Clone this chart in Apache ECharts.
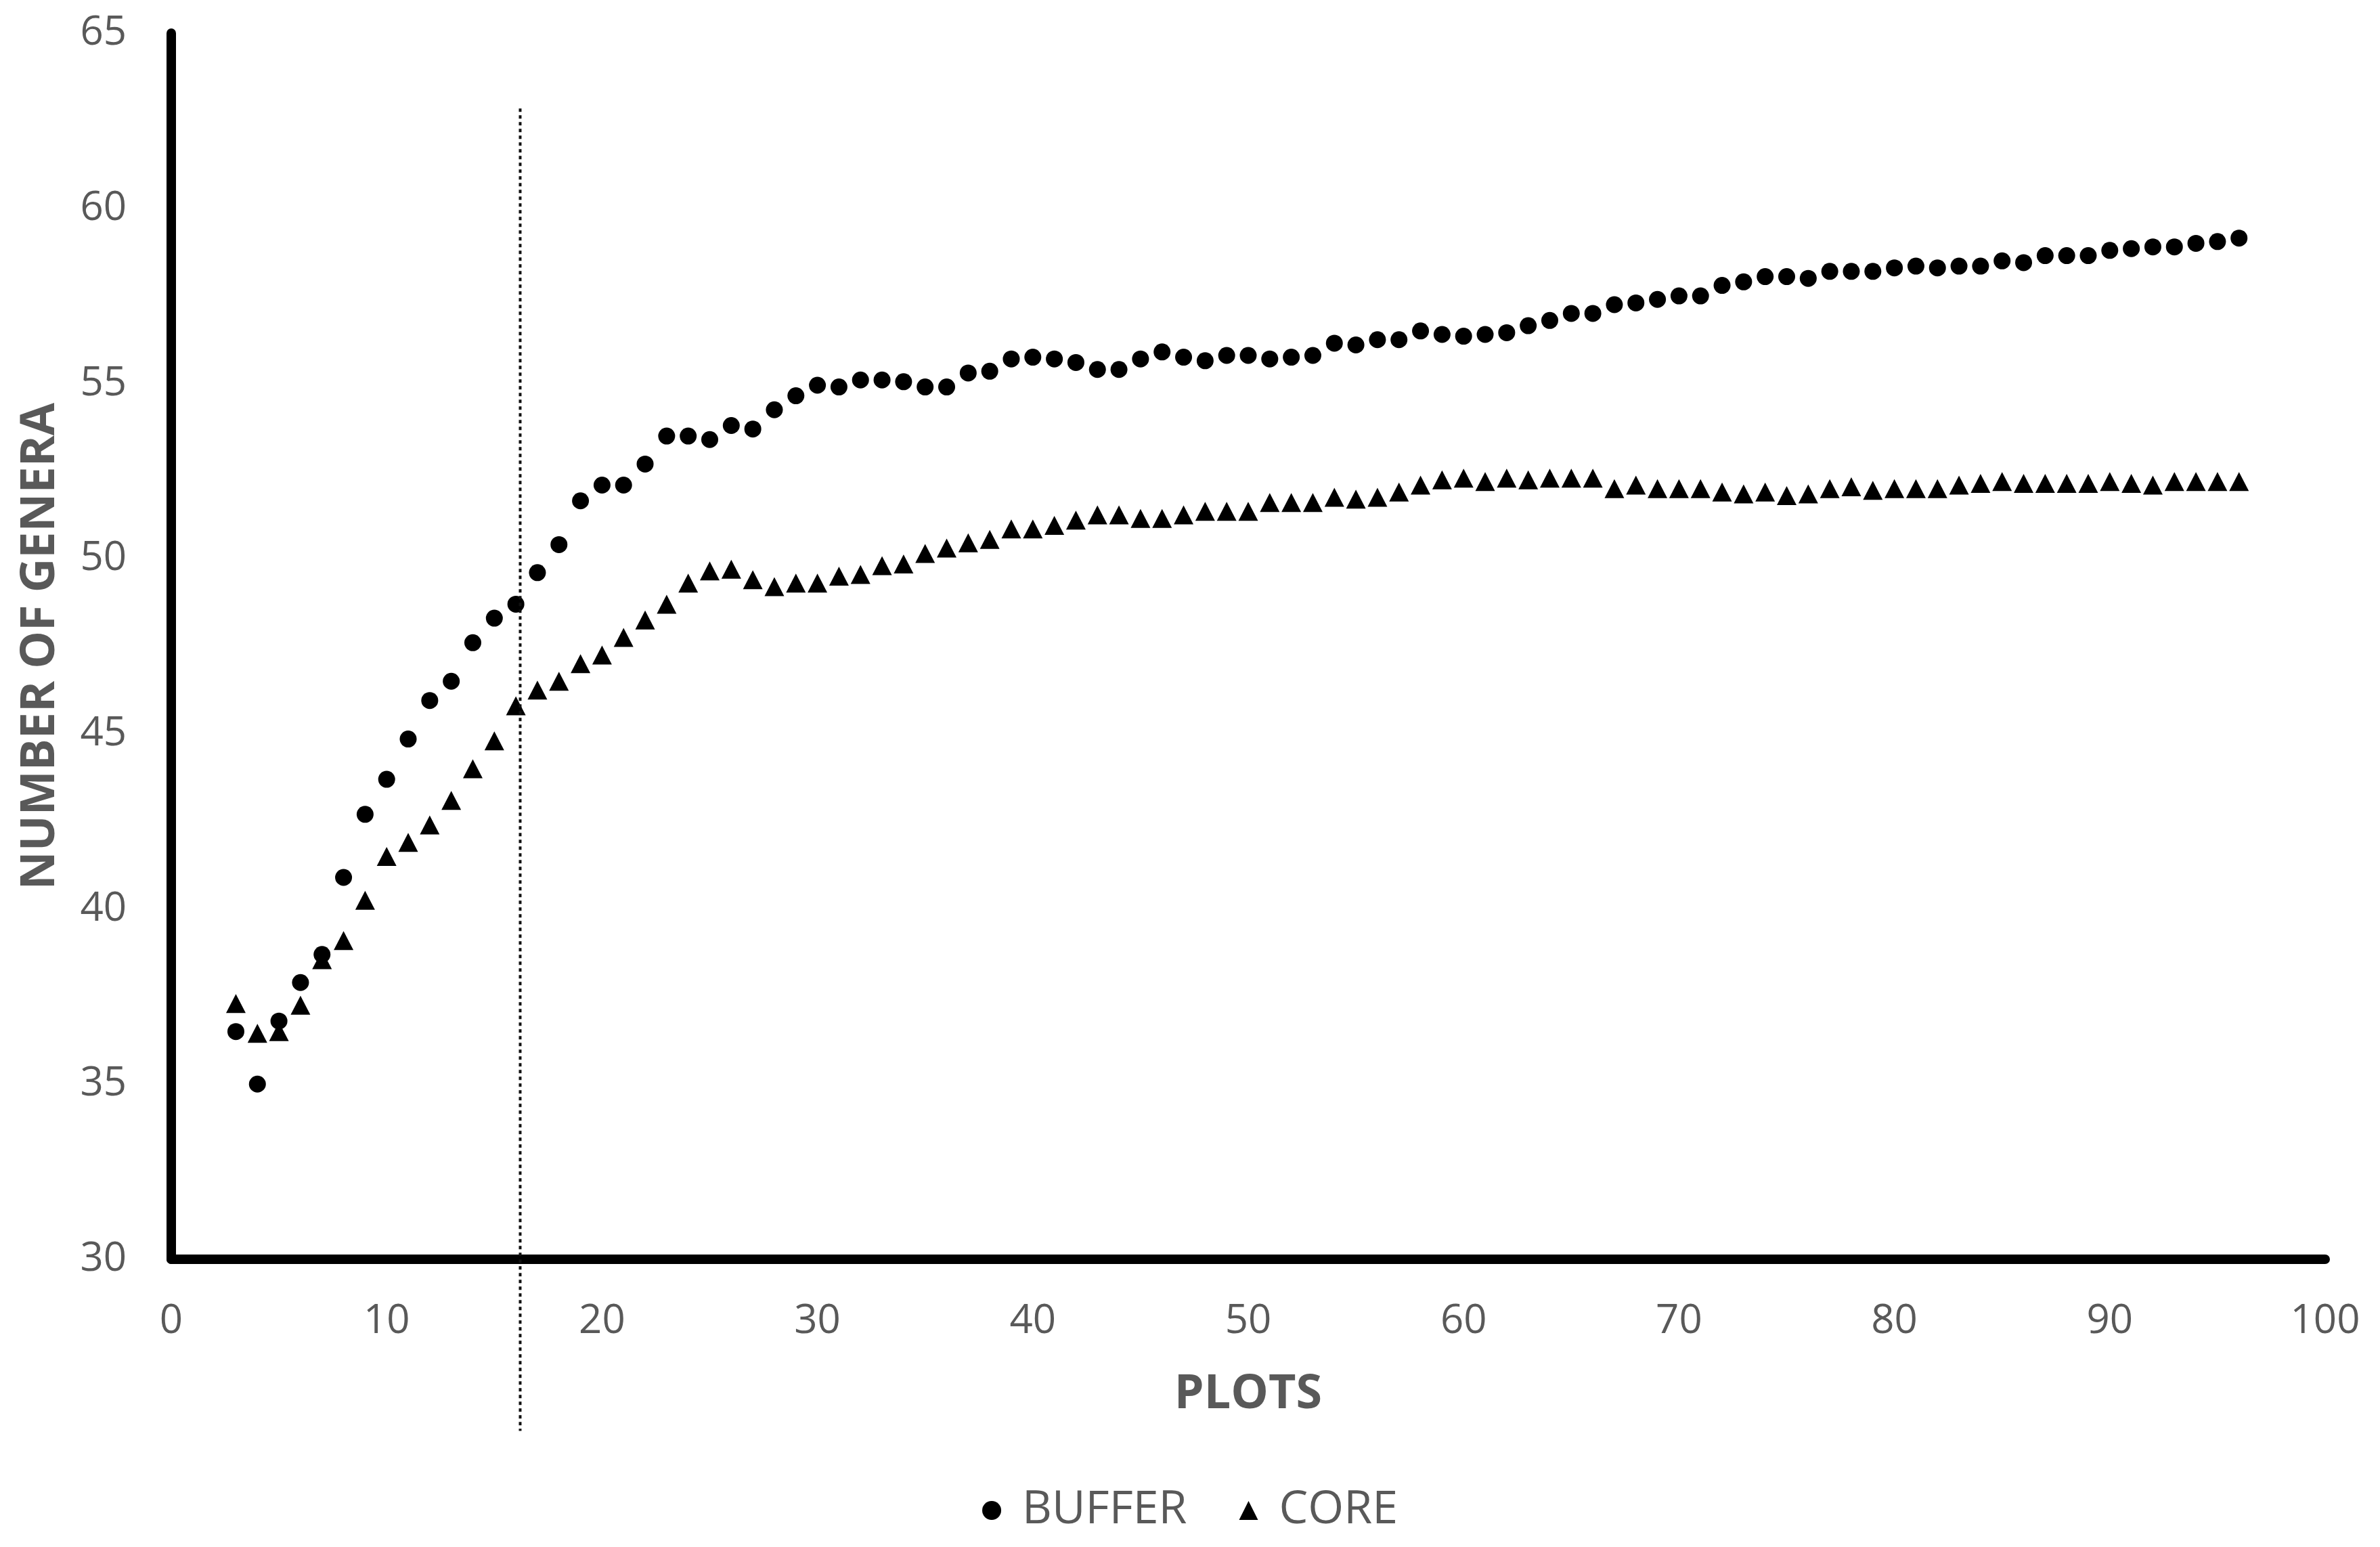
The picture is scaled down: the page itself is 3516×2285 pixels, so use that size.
<!DOCTYPE html>
<html>
<head>
<meta charset="utf-8">
<title>Number of genera by plots</title>
<script src="https://cdn.jsdelivr.net/npm/echarts@6/dist/echarts.min.js"></script>
<style>
html,body{margin:0;padding:0;background:#fff}
#chart{width:3516px;height:2285px}
</style>
</head>
<body>
<div id="chart"></div>
<script>
// plots sampled (x) and number of genera for each zone
var plots = [3,4,5,6,7,8,9,10,11,12,13,14,15,16,17,18,19,20,21,22,23,24,25,26,27,28,29,30,
  31,32,33,34,35,36,37,38,39,40,41,42,43,44,45,46,47,48,49,50,51,52,53,54,55,56,57,58,59,60,
  61,62,63,64,65,66,67,68,69,70,71,72,73,74,75,76,77,78,79,80,81,82,83,84,85,86,87,88,89,90,
  91,92,93,94,95,96];
var buffer = [36.5,35.0,36.8,37.9,38.7,40.9,42.7,43.7,44.85,45.95,46.5,47.6,48.3,48.7,49.6,50.4,51.65,52.1,52.1,52.7,
  53.5,53.5,53.4,53.8,53.7,54.25,54.65,54.95,54.9,55.1,55.1,55.05,54.9,54.9,55.3,55.35,55.7,55.75,55.7,55.6,
  55.4,55.4,55.7,55.9,55.75,55.65,55.8,55.8,55.7,55.75,55.8,56.15,56.1,56.25,56.25,56.5,56.4,56.35,56.4,56.45,
  56.65,56.8,57.0,57.0,57.25,57.3,57.4,57.5,57.5,57.8,57.9,58.05,58.05,58.0,58.2,58.2,58.2,58.3,58.35,58.3,
  58.35,58.35,58.5,58.45,58.65,58.65,58.65,58.8,58.85,58.9,58.9,59.0,59.05,59.15];
var core = [37.3,36.45,36.5,37.25,38.55,39.1,40.25,41.5,41.9,42.4,43.1,44.0,44.8,45.8,46.25,46.5,47.0,47.25,47.75,48.25,
  48.7,49.3,49.65,49.7,49.4,49.2,49.3,49.3,49.5,49.55,49.8,49.85,50.15,50.3,50.45,50.55,50.85,50.85,50.95,51.1,
  51.25,51.25,51.15,51.15,51.25,51.35,51.35,51.35,51.6,51.6,51.6,51.75,51.7,51.75,51.9,52.1,52.25,52.3,52.2,52.3,
  52.25,52.3,52.3,52.3,52.0,52.1,52.0,52.0,52.0,51.9,51.85,51.9,51.8,51.85,52.0,52.05,51.95,52.0,52.0,52.0,
  52.1,52.15,52.2,52.15,52.15,52.15,52.15,52.2,52.15,52.1,52.2,52.2,52.2,52.2];
var seriesNames = ['BUFFER', 'CORE'];
var cutoffPlot = 16.2;      // dotted reference line
var cutoffTop = 62.85;
var cutoffBottom = 25.1;

var grey = '#595959';
var font = "'Open Sans', 'Noto Sans', sans-serif";

function pairs(ys) {
    return plots.map(function (x, i) { return [x, ys[i]]; });
}

var myChart = echarts.init(document.getElementById('chart'));
var option = {
    backgroundColor: '#fff',
    animation: false,
    textStyle: { fontFamily: font },
    grid: {
        left: 253,
        right: 81,
        top: 49,
        bottom: 425,
        containLabel: false
    },
    legend: {
        left: 'center',
        top: 2192,
        itemWidth: 28,
        itemHeight: 28,
        itemGap: 77,
        formatter: function (name) { return '{t|' + name + '}'; },
        itemStyle: { opacity: 1 },
        textStyle: {
            color: grey,
            fontSize: 68,
            fontFamily: font,
            rich: { t: { color: grey, fontSize: 68, fontFamily: font, padding: [0, 0, 0, 26] } }
        },
        data: [
            { name: seriesNames[0], icon: 'circle' },
            { name: seriesNames[1], icon: 'triangle' }
        ]
    },
    xAxis: {
        type: 'value',
        min: 0,
        max: 100,
        interval: 10,
        name: 'PLOTS',
        nameLocation: 'middle',
        nameGap: 165,
        nameTextStyle: { color: grey, fontSize: 70, fontWeight: 'bold', fontFamily: font },
        axisLine: { show: true, onZero: false, lineStyle: { color: '#000', width: 14 } },
        axisTick: { show: false },
        splitLine: { show: false },
        axisLabel: { color: grey, fontSize: 60, margin: 62, fontFamily: font }
    },
    yAxis: {
        type: 'value',
        min: 30,
        max: 65,
        interval: 5,
        name: 'NUMBER OF GENERA',
        nameLocation: 'middle',
        nameGap: 158,
        nameRotate: 90,
        nameTextStyle: { color: grey, fontSize: 70, fontWeight: 'bold', fontFamily: font },
        axisLine: { show: true, onZero: false, lineStyle: { color: '#000', width: 14 } },
        axisTick: { show: false },
        splitLine: { show: false },
        axisLabel: { color: grey, fontSize: 60, margin: 66, fontFamily: font }
    },
    series: [{
        name: seriesNames[0],
        type: 'scatter',
        symbol: 'circle',
        symbolSize: 25,
        itemStyle: { color: '#000', opacity: 1 },
        data: pairs(buffer)
    }, {
        name: seriesNames[1],
        type: 'scatter',
        symbol: 'triangle',
        symbolSize: [29, 28],
        itemStyle: { color: '#000', opacity: 1 },
        data: pairs(core)
    }]
};
myChart.setOption(option);

// dotted cut-off line, placed through the chart's own scales
var p1 = myChart.convertToPixel({ gridIndex: 0 }, [cutoffPlot, cutoffTop]);
var p2 = myChart.convertToPixel({ gridIndex: 0 }, [cutoffPlot, cutoffBottom]);
myChart.setOption({
    graphic: [{
        type: 'line',
        z: 100,
        shape: { x1: p1[0], y1: p1[1], x2: p2[0], y2: p2[1] },
        style: { stroke: '#111', lineWidth: 4, lineDash: [5, 5] }
    }]
});

window.addEventListener("resize", function () {
    myChart.resize();
});
</script>
</body>
</html>
